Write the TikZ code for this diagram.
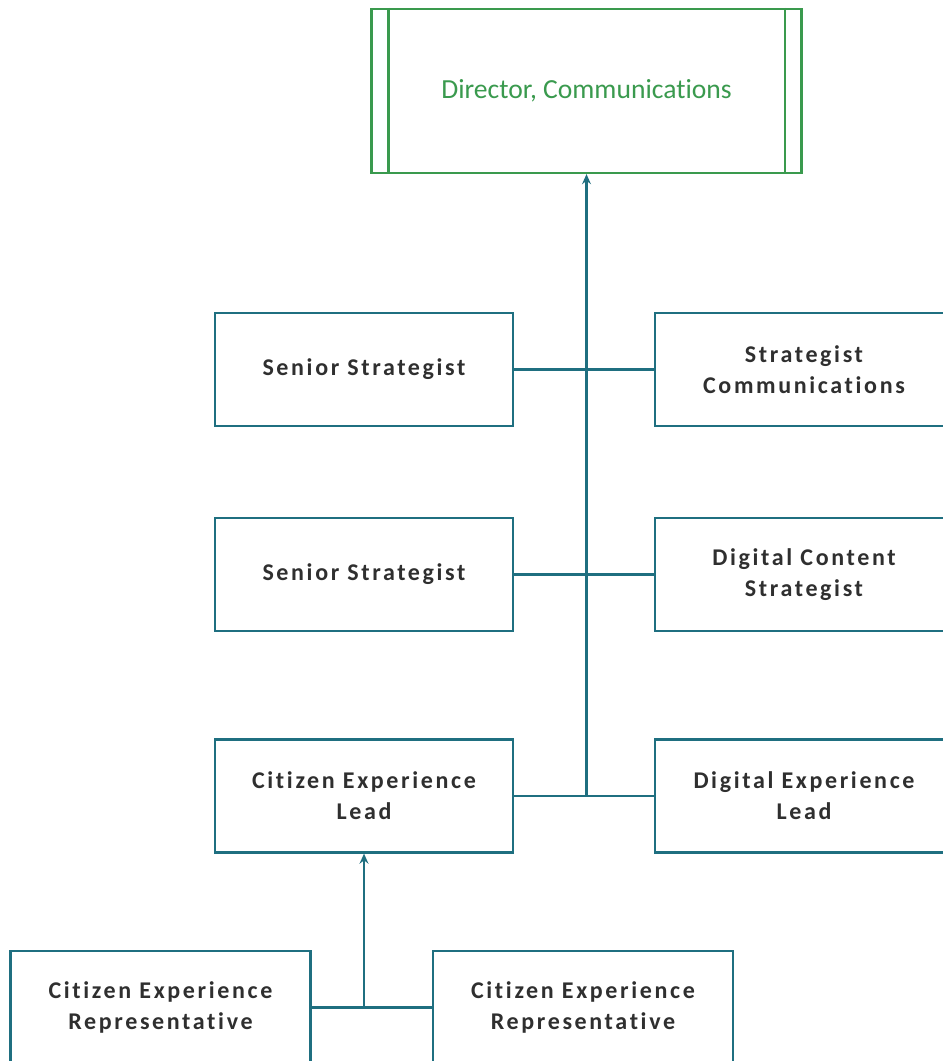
\documentclass[tikz,border=0pt]{standalone}
\usepackage{fontspec}
\setmainfont{Carlito}[Ligatures=NoCommon]
\usetikzlibrary{arrows.meta,positioning,calc}
\definecolor{teal}{HTML}{1F6F80}
\definecolor{leaf}{HTML}{3A9A4E}
\definecolor{ink}{HTML}{2F2F2F}
\newfontfamily\rolefont[LetterSpace=11,Ligatures=NoCommon]{Carlito Bold}

\begin{document}
\begin{tikzpicture}[x=0.5pt,y=-0.5pt,
    role/.style={draw=teal,line width=1.1pt,rectangle,minimum width=149pt,minimum height=56.5pt,
      align=center,text=ink,font=\rolefont\fontsize{12}{15.5}\selectfont},
    head/.style={draw=leaf,line width=1.1pt,rectangle,minimum width=215pt,minimum height=82pt,
      text=leaf,font=\fontsize{13.8}{16}\selectfont},
    link/.style={draw=teal,line width=1.1pt},
    up/.style={link,-{Stealth[length=5pt,width=4.4pt]}}]
  \clip (0,0) rectangle (943,1061);
  \fill[white] (0,0) rectangle (943,1061);
  % top box
  \node[head] (dir) at (586.5,91) {Director, Communications};
  \draw[draw=leaf,line width=1.1pt] ([xshift=9pt]dir.north west) -- ([xshift=9pt]dir.south west);
  \draw[draw=leaf,line width=1.1pt] ([xshift=-9pt]dir.north east) -- ([xshift=-9pt]dir.south east);
  % rows under the director
  \node[role] (ss1) at (364,369.5) {Senior Strategist};
  \node[role] (sc)  at (804,369.5) {Strategist\\Communications};
  \node[role] (ss2) at (364,574.5) {Senior Strategist};
  \node[role] (dcs) at (804,574.5) {Digital Content\\Strategist};
  \node[role] (cel) at (364,796) {Citizen Experience\\Lead};
  \node[role] (del) at (804,796) {Digital Experience\\Lead};
  \foreach \lt/\rt in {ss1/sc,ss2/dcs,cel/del}
    \draw[link] (\lt.east) -- (\rt.west);
  \coordinate (trunk) at (dir.south |- cel.east);
  \draw[up] (trunk) -- (dir.south);
  % representatives
  \node[role,minimum width=150pt] (cer1) at (160.5,1007.5) {Citizen Experience\\Representative};
  \node[role,minimum width=150pt] (cer2) at (583,1007.5) {Citizen Experience\\Representative};
  \draw[link] (cer1.east) -- (cer2.west);
  \coordinate (stem) at (cel.south |- cer1.east);
  \draw[up] (stem) -- (cel.south);
\end{tikzpicture}
\end{document}
